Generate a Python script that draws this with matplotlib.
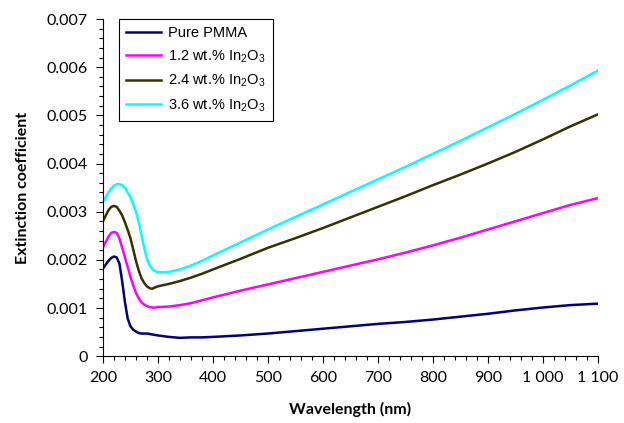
import matplotlib
matplotlib.use("Agg")
import matplotlib.pyplot as plt
from matplotlib.ticker import MultipleLocator, FixedLocator

# wavelength grid (nm)
wavelength = [200, 205, 210, 215, 220, 225, 230, 235, 240, 245, 250, 255, 260, 265, 270,
              275, 280, 285, 290, 295, 300, 320, 340, 360, 380, 400, 450, 500, 550, 600,
              650, 700, 750, 800, 850, 900, 950, 1000, 1050, 1100]

pure_pmma = [0.00182, 0.00190, 0.00198, 0.00204, 0.00207, 0.00205, 0.00192, 0.00155, 0.00112, 0.00078,
             0.00062, 0.00055, 0.00051, 0.00048, 0.00047, 0.00047, 0.00047, 0.00046, 0.00045, 0.00044,
             0.00043, 0.00040, 0.00038, 0.00039, 0.00039, 0.00040, 0.00043, 0.00047, 0.00052, 0.00057,
             0.00062, 0.00067, 0.00071, 0.00076, 0.00082, 0.00088, 0.00095, 0.00101, 0.00106, 0.00109]

in2o3_12 = [0.00226, 0.00237, 0.00248, 0.00256, 0.00258, 0.00256, 0.00244, 0.00225, 0.00205, 0.00185,
            0.00165, 0.00147, 0.00132, 0.00120, 0.00112, 0.00107, 0.00104, 0.00102, 0.00101, 0.00101,
            0.00102, 0.00103, 0.00106, 0.00110, 0.00116, 0.00122, 0.00136, 0.00149, 0.00162, 0.00175,
            0.00188, 0.00201, 0.00215, 0.00230, 0.00246, 0.00263, 0.00280, 0.00297, 0.00314, 0.00328]

in2o3_24 = [0.00280, 0.00292, 0.00303, 0.00310, 0.00312, 0.00310, 0.00302, 0.00292, 0.00278, 0.00262,
            0.00245, 0.00222, 0.00198, 0.00178, 0.00162, 0.00152, 0.00145, 0.00141, 0.00140, 0.00143,
            0.00145, 0.00150, 0.00156, 0.00163, 0.00171, 0.00180, 0.00202, 0.00225, 0.00245, 0.00266,
            0.00288, 0.00310, 0.00332, 0.00355, 0.00377, 0.00400, 0.00424, 0.00450, 0.00477, 0.00502]

in2o3_36 = [0.00320, 0.00330, 0.00340, 0.00348, 0.00354, 0.00357, 0.00357, 0.00355, 0.00349, 0.00340,
            0.00330, 0.00317, 0.00300, 0.00278, 0.00252, 0.00225, 0.00202, 0.00188, 0.00181, 0.00177,
            0.00174, 0.00175, 0.00180, 0.00188, 0.00198, 0.00209, 0.00236, 0.00263, 0.00289, 0.00315,
            0.00341, 0.00367, 0.00393, 0.00420, 0.00447, 0.00475, 0.00503, 0.00532, 0.00562, 0.00593]

x_ticks = [200, 300, 400, 500, 600, 700, 800, 900, 1000, 1100]
x_tick_labels = ["200", "300", "400", "500", "600", "700", "800", "900", "1 000", "1 100"]
y_ticks = [0, 0.001, 0.002, 0.003, 0.004, 0.005, 0.006, 0.007]
y_tick_labels = ["0", "0.001", "0.002", "0.003", "0.004", "0.005", "0.006", "0.007"]

plt.rcParams['mathtext.fontset'] = 'custom'
plt.rcParams['mathtext.rm'] = 'Liberation Sans'

fig = plt.figure(figsize=(6.24, 4.23), dpi=100)
ax = fig.add_axes([0.165, 0.158, 0.793, 0.797])

lw = 1.8
ax.plot(wavelength, pure_pmma, color='#000080', lw=lw, label='Pure PMMA')
ax.plot(wavelength, in2o3_12, color='#FF00FF', lw=lw, label=r'1.2 wt.% In$\mathregular{_2}$O$\mathregular{_3}$')
ax.plot(wavelength, in2o3_24, color='#333300', lw=lw, label=r'2.4 wt.% In$\mathregular{_2}$O$\mathregular{_3}$')
ax.plot(wavelength, in2o3_36, color='#00FFFF', lw=lw, label=r'3.6 wt.% In$\mathregular{_2}$O$\mathregular{_3}$')

ax.set_xlim(200, 1100)
ax.set_ylim(0, 0.007)
ax.xaxis.set_major_locator(FixedLocator(x_ticks))
ax.set_xticklabels(x_tick_labels)
ax.yaxis.set_major_locator(FixedLocator(y_ticks))
ax.set_yticklabels(y_tick_labels)
ax.xaxis.set_minor_locator(MultipleLocator(20))
ax.yaxis.set_minor_locator(MultipleLocator(0.0002))

for lab in ax.get_xticklabels() + ax.get_yticklabels():
    lab.set_fontfamily('Lato')
    lab.set_fontsize(11.5)

ax.tick_params(which='major', direction='out', length=5, width=0.8, pad=6)
ax.tick_params(which='minor', direction='out', length=3, width=0.8)
ax.spines['top'].set_visible(False)
ax.spines['right'].set_visible(False)

ax.set_xlabel('Wavelength (nm)', fontfamily='Lato', fontweight='bold', fontsize=11.5, labelpad=12)
ax.set_ylabel('Extinction coefficient', fontfamily='Lato', fontweight='bold', fontsize=11.5, labelpad=12)

leg = ax.legend(loc='upper left', bbox_to_anchor=(0.032, 1.0), borderaxespad=0,
                prop={'family': 'Liberation Sans', 'size': 10.5},
                frameon=True, fancybox=False, edgecolor='black', framealpha=1,
                handlelength=2.4, handletextpad=0.5, borderpad=0.5, labelspacing=0.55)
leg.get_frame().set_linewidth(0.8)

fig.savefig('out.png', dpi=100)
